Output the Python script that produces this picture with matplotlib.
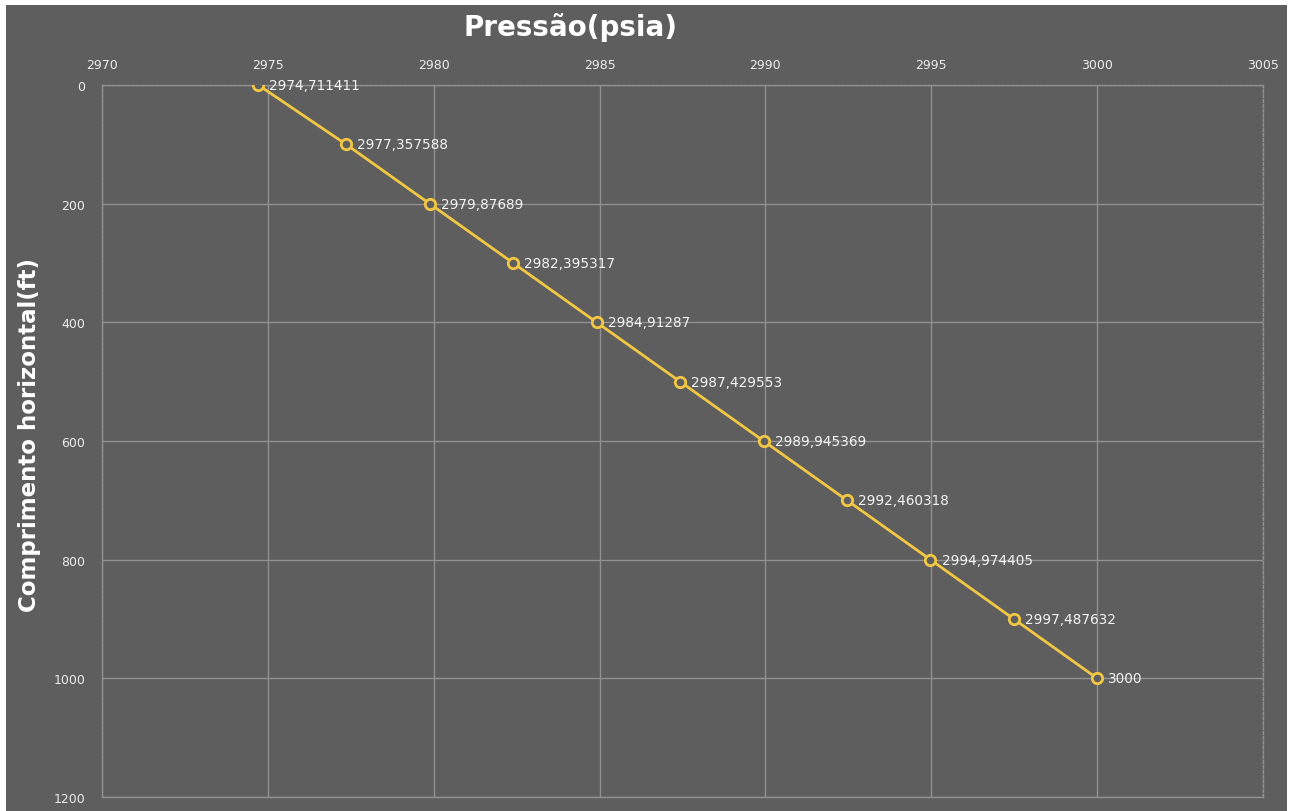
import matplotlib
matplotlib.use("Agg")
import matplotlib.pyplot as plt
from matplotlib.patches import Rectangle

# pressão ao longo do trecho horizontal
comprimento = [0, 100, 200, 300, 400, 500, 600, 700, 800, 900, 1000]
pressao = [2974.711411, 2977.357588, 2979.87689, 2982.395317, 2984.91287,
           2987.429553, 2989.945369, 2992.460318, 2994.974405, 2997.487632, 3000]
rotulos = ["2974,711411", "2977,357588", "2979,87689", "2982,395317", "2984,91287",
           "2987,429553", "2989,945369", "2992,460318", "2994,974405", "2997,487632", "3000"]
x_ticks = [2970, 2975, 2980, 2985, 2990, 2995, 3000, 3005]
y_ticks = [0, 200, 400, 600, 800, 1000, 1200]

FUNDO = "#5e5e5e"
GRADE = "#919191"
TEXTO = "#ececec"
AMARELO = "#f2c744"

W, H = 1291, 812
fig = plt.figure(figsize=(W / 100, H / 100), dpi=100, facecolor="white")
# moldura cinza com borda branca fina
fig.patches.append(Rectangle((6 / W, 0), (1287 - 6) / W, (H - 6) / H,
                             transform=fig.transFigure, facecolor=FUNDO,
                             edgecolor="none", zorder=-10))

ax = fig.add_axes([102 / W, 1 - 798 / H, (1263 - 102) / W, (798 - 86) / H])
ax.set_facecolor(FUNDO)
ax.set_xlim(2970, 3005)
ax.set_ylim(1200, 0)
ax.set_xticks(x_ticks)
ax.set_yticks(y_ticks)
ax.xaxis.tick_top()
ax.tick_params(axis="both", length=0, labelsize=9, labelcolor=TEXTO)
ax.tick_params(axis="x", pad=10)
ax.tick_params(axis="y", pad=12)
ax.grid(True, color=GRADE, lw=1)
ax.set_axisbelow(True)
for s in ax.spines.values():
    s.set_color(GRADE)
    s.set_linestyle((0, (2, 1.5)))
    s.set_linewidth(1)
ax.spines["bottom"].set_linestyle("-")

ax.plot(pressao, comprimento, color=AMARELO, lw=2, marker="o", ms=7.5,
        mfc=FUNDO, mec=AMARELO, mew=2, zorder=3)
for p, c, r in zip(pressao, comprimento, rotulos):
    ax.annotate(r, (p, c), xytext=(8, 0), textcoords="offset points",
                va="center", ha="left", color="#f4f4f4", fontsize=9.8, zorder=4)

fig.text(571 / W, 1 - 27 / H, "Pressão(psia)", ha="center", va="center",
         color="white", fontsize=20, fontweight="bold")
fig.text(30 / W, 1 - 435 / H, "Comprimento horizontal(ft)", ha="center",
         va="center", rotation=90, color="white", fontsize=16.5,
         fontweight="bold")

fig.savefig("out.png", dpi=100, facecolor=fig.get_facecolor())
